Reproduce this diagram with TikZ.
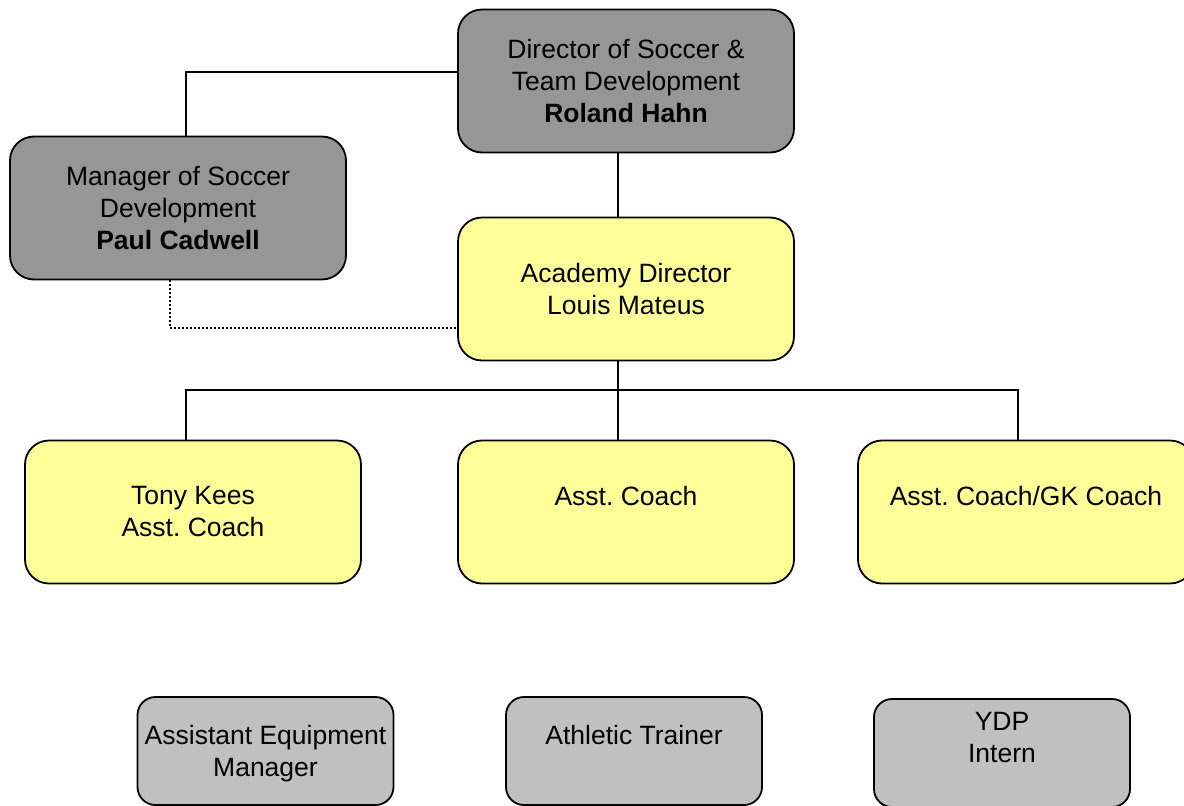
\documentclass[tikz,border=0pt]{standalone}
\usepackage{fontspec}
\setmainfont{Liberation Sans}
\frenchspacing
\definecolor{boxdark}{HTML}{969696}
\definecolor{boxyellow}{HTML}{FFFF99}
\definecolor{boxlight}{HTML}{C0C0C0}
\begin{document}
\frenchspacing
\begin{tikzpicture}[x=1pt,y=-1pt,
  box/.style={draw=black, line width=1.8pt, rounded corners=24pt, align=center,
    inner sep=0pt, minimum width=336pt, minimum height=143pt,
    font=\fontsize{26.5}{32}\selectfont},
  darkbox/.style={box, fill=boxdark},
  yelbox/.style={box, fill=boxyellow},
  smallbox/.style={box, fill=boxlight, rounded corners=18pt, minimum width=256pt, minimum height=108pt},
  conn/.style={draw=black, line width=1.8pt},
  dotconn/.style={draw=black, line width=2pt, dash pattern=on 2pt off 2pt}]
\useasboundingbox (0,0) rectangle (1184,806);
\clip (0,0) rectangle (1184,806);
\fill[white] (0,0) rectangle (1184,806);

\node[darkbox] (dir) at (626,81) {Director of Soccer \&\\Team Development\\\textbf{Roland Hahn}};
\node[darkbox] (mgr) at (178,208) {Manager of Soccer\\Development\\\textbf{Paul Cadwell}};
\node[yelbox] (acad) at (626,289) {Academy Director\\Louis Mateus};
\node[yelbox] (tony) at (193,512) {Tony Kees\\Asst. Coach};
\node[yelbox] (asst) at (626,512) {Asst. Coach\\\mbox{}};
\node[yelbox] (gk) at (1026,512) {Asst. Coach/GK Coach\\\mbox{}};
\node[smallbox, text depth=0pt] (equip) at (265.5,751) {Assistant Equipment\\Manager};
\node[smallbox] (ath) at (634,751) {Athletic Trainer\\\mbox{}};
\node[smallbox] (ydp) at (1002,753) {YDP\\Intern\\\mbox{}};

\draw[conn] ([yshift=9pt]dir.west) -| ([xshift=8pt]mgr.north);
\draw[conn] ([xshift=-8pt]dir.south) -- ([xshift=-8pt]acad.north);
\draw[conn] ([xshift=-8pt]acad.south) -- ([xshift=-8pt]asst.north);
\draw[conn] ([xshift=-7pt]tony.north) -- ++(0,-50) -| ([xshift=-8pt]gk.north);
\draw[dotconn] ([xshift=-8pt]mgr.south) |- ([yshift=-39pt]acad.west);
\end{tikzpicture}
\end{document}
